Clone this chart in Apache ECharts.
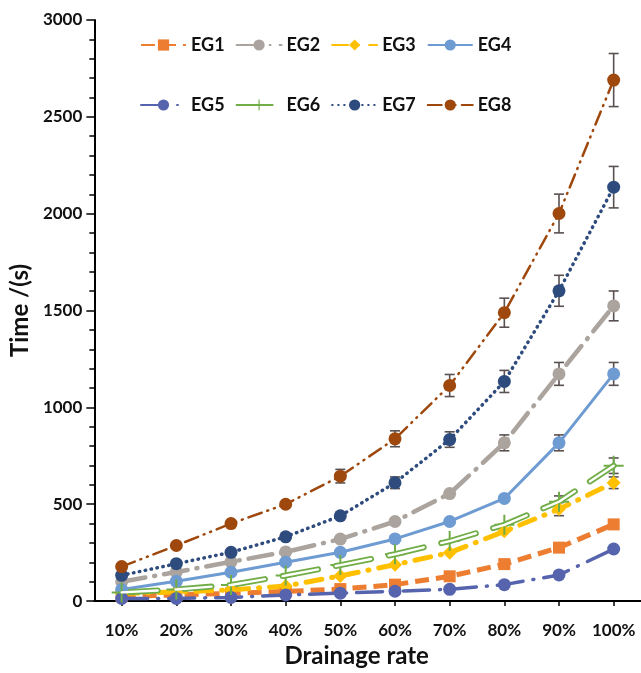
<!DOCTYPE html>
<html>
<head>
<meta charset="utf-8">
<script src="https://cdn.jsdelivr.net/npm/echarts@6/dist/echarts.min.js"></script>
<style>
html,body{margin:0;padding:0;background:#fff;}
#chart{width:641px;height:673px;}
</style>
</head>
<body>
<div id="chart"></div>
<script>
const categories = ['10%','20%','30%','40%','50%','60%','70%','80%','90%','100%'];
const yTicks = [0, 500, 1000, 1500, 2000, 2500, 3000];

const eg1 = [25, 32, 40, 50, 62, 85, 128, 191, 276, 396];
const eg2 = [100, 150, 203, 254, 320, 411, 555, 817, 1173, 1524];
const eg3 = [40, 47, 58, 78, 130, 188, 250, 360, 475, 611];
const eg4 = [60, 102, 149, 201, 252, 321, 411, 530, 817, 1173];
const eg5 = [14, 14, 19, 32, 41, 51, 61, 85, 135, 269];
const eg6 = [45, 60, 83, 132, 186, 242, 310, 394, 513, 699];
const eg7 = [133, 193, 252, 332, 440, 611, 834, 1134, 1602, 2137];
const eg8 = [178, 287, 400, 500, 645, 838, 1113, 1489, 2001, 2690];

// error half-widths (null = no error bar drawn)
const err2 = [null, null, null, null, null, null, null, 41, 59, 77];
const err3 = [null, null, null, null, null, null, null, null, 34, 30];
const err4 = [null, null, null, null, null, null, null, null, 41, 59];
const err6 = [null, null, null, null, null, null, null, null, 30, 40];
const err7 = [null, null, null, null, null, 30, 40, 57, 80, 107];
const err8 = [null, null, null, null, 35, 41, 57, 75, 100, 137];

const colors = {
  EG1:'#ED7D31', EG2:'#ABA49E', EG3:'#FFC000', EG4:'#6E9BD2',
  EG5:'#5664AE', EG6:'#70AD47', EG7:'#2E4B7D', EG8:'#9E480E'
};

const FONT = 'Lato, "Open Sans", sans-serif';
const plusPath = 'path://M-1,-10H1V-1H10V1H1V10H-1V1H-10V-1H-1Z';

function errData(vals, errs) {
  const out = [];
  for (let i = 0; i < vals.length; i++) {
    if (errs[i] != null) out.push([i, vals[i], errs[i]]);
  }
  return out;
}
const allErr = [].concat(
  errData(eg2, err2), errData(eg3, err3), errData(eg4, err4),
  errData(eg6, err6), errData(eg7, err7), errData(eg8, err8)
);

function lineSeries(name, data, symbol, size, lineStyle, z) {
  return {
    name: name, type: 'line', data: data,
    symbol: symbol, symbolSize: size, showSymbol: true,
    itemStyle: { color: colors[name] },
    lineStyle: Object.assign({ color: colors[name] }, lineStyle),
    z: z || 3, animation: false, smooth: false
  };
}

const legendText = { fontFamily: FONT, fontWeight: 'bold', fontSize: 18, color: '#111' };

const option = {
  backgroundColor: '#fff',
  animation: false,
  grid: { left: 90, top: 20, width: 554, height: 591, containLabel: false },
  legend: [
    { data: ['EG1','EG2','EG3','EG4'], left: 140, top: 36, padding: 0,
      itemWidth: 45, itemHeight: 14, itemGap: 11, textStyle: legendText },
    { data: ['EG5','EG6','EG7','EG8'], left: 140, top: 96, padding: 0,
      itemWidth: 45, itemHeight: 14, itemGap: 11, textStyle: legendText }
  ],
  xAxis: {
    type: 'category', data: categories, boundaryGap: true,
    name: 'Drainage rate', nameLocation: 'middle', nameGap: 40,
    nameTextStyle: { fontFamily: FONT, fontWeight: 'bold', fontSize: 24, color: '#111', padding: [0, 22, 0, 0] },
    axisLine: { lineStyle: { color: '#000', width: 2 } },
    axisTick: { show: true, alignWithLabel: true, length: 5, lineStyle: { color: '#000', width: 1.5 } },
    axisLabel: { interval: 0, fontFamily: FONT, fontWeight: 'bold', fontSize: 17, color: '#111', margin: 21 },
    splitLine: { show: false }
  },
  yAxis: {
    type: 'value', min: yTicks[0], max: yTicks[yTicks.length - 1], interval: 500,
    name: 'Time /(s)', nameLocation: 'middle', nameGap: 55,
    nameTextStyle: { fontFamily: FONT, fontWeight: 'bold', fontSize: 24, color: '#111' },
    axisLine: { show: true, lineStyle: { color: '#000', width: 2 } },
    axisTick: { show: true, inside: false, length: 8, lineStyle: { color: '#000', width: 1.5 } },
    minorTick: { show: true, splitNumber: 5, length: 5, lineStyle: { color: '#000', width: 1.5 } },
    axisLabel: { fontFamily: FONT, fontWeight: 'bold', fontSize: 17, color: '#111', margin: 12,
      formatter: function (v) { return String(v); } },
    splitLine: { show: false }
  },
  series: [
    {
      name: 'errorbars', type: 'custom', data: allErr, z: 2, silent: true,
      renderItem: function (params, api) {
        const i = api.value(0), v = api.value(1), e = api.value(2);
        const top = api.coord([i, v + e]);
        const bot = api.coord([i, v - e]);
        const hw = 5;
        const st = { stroke: '#5A5050', lineWidth: 1.6 };
        return {
          type: 'group',
          children: [
            { type: 'line', shape: { x1: top[0], y1: top[1], x2: bot[0], y2: bot[1] }, style: st },
            { type: 'line', shape: { x1: top[0] - hw, y1: top[1], x2: top[0] + hw, y2: top[1] }, style: st },
            { type: 'line', shape: { x1: bot[0] - hw, y1: bot[1], x2: bot[0] + hw, y2: bot[1] }, style: st }
          ]
        };
      }
    },
    lineSeries('EG1', eg1, 'rect', 12, { width: 5, type: [14, 7], cap: 'butt' }),
    lineSeries('EG2', eg2, 'circle', 13, { width: 4.5, type: [24, 9, 1, 9], cap: 'round' }),
    lineSeries('EG3', eg3, 'diamond', 14, { width: 5, type: [16, 10, 1, 10], cap: 'round' }),
    lineSeries('EG4', eg4, 'circle', 13, { width: 3, type: 'solid' }),
    lineSeries('EG5', eg5, 'circle', 13, { width: 3.5, type: [26, 10, 1, 10], cap: 'round' }),
    lineSeries('EG6', eg6, plusPath, 20, { width: 6, type: [36, 18], cap: 'round' }, 3),
    {
      name: 'EG6-inner', type: 'line', data: eg6, showSymbol: false, symbol: 'none',
      lineStyle: { color: '#fff', width: 2.4, type: [36, 18], cap: 'round' },
      z: 4, silent: true, animation: false
    },
    lineSeries('EG7', eg7, 'circle', 13, { width: 3.5, type: [0.5, 5.5], cap: 'round' }),
    lineSeries('EG8', eg8, 'circle', 13, { width: 2.5, type: [14, 6, 1, 6, 1, 6], cap: 'round' })
  ]
};

const chart = echarts.init(document.getElementById('chart'), null, { renderer: 'canvas' });
chart.setOption(option);
</script>
</body>
</html>
